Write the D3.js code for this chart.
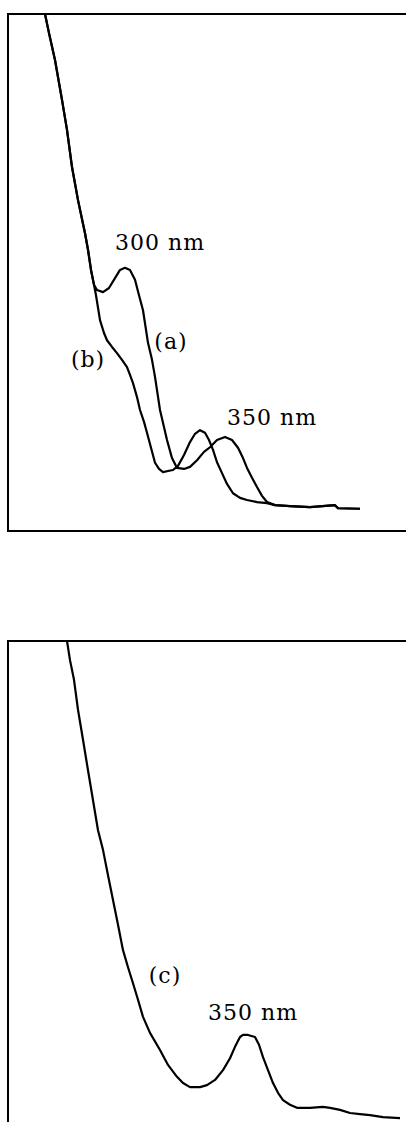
<!DOCTYPE html>
<html>
<head>
<meta charset="utf-8">
<script src="https://cdn.jsdelivr.net/npm/d3@7"></script>
<style>
  html, body { margin: 0; padding: 0; background: #fff; }
  svg { display: block; }
</style>
</head>
<body>
<svg id="chart" width="406" height="1122"></svg>
<script>
// ---- data (wavelength nm, absorbance relative units) ----
const wavelengthA = [258.5,260.5,263.5,267,269.5,272,275,278.5,280,281.5,283,284.5,287.5,290.5,293.5,296,298.5,301,303.5,305.5,307.5,310,312,313.5,316,319.5,322,324.5,328,331,334.5,338,341,344.5,348.5,352,355,357.5,359.5,362,364.5,367,369.5,373.5,381,391,403.5,405,416];
const absorbanceA = [1.000,0.963,0.911,0.834,0.776,0.704,0.640,0.576,0.544,0.505,0.476,0.466,0.462,0.470,0.489,0.505,0.509,0.505,0.486,0.456,0.427,0.364,0.331,0.298,0.234,0.176,0.141,0.122,0.120,0.124,0.137,0.153,0.162,0.176,0.182,0.176,0.161,0.141,0.122,0.103,0.085,0.068,0.056,0.050,0.048,0.046,0.050,0.044,0.043];

const wavelengthB = [258.5,260.5,263.5,267,269.5,272,275,278.5,280,281.5,283,284,286,288,289.5,292,294.5,297,299.5,301,302.5,304.5,306,308,309.5,311.5,313.5,315.5,317.5,320,322.5,325,328,331,333.5,336,338.5,340.5,342.5,344.5,347,349.5,352.5,356,359.5,364.5,369.5,373.5,381,391,403.5,405,416];
const absorbanceB = [1.000,0.963,0.911,0.834,0.776,0.704,0.640,0.576,0.544,0.505,0.476,0.456,0.408,0.383,0.369,0.356,0.344,0.331,0.317,0.302,0.286,0.259,0.234,0.211,0.190,0.161,0.132,0.120,0.114,0.116,0.118,0.126,0.147,0.172,0.188,0.195,0.190,0.176,0.157,0.133,0.112,0.091,0.073,0.064,0.060,0.056,0.054,0.050,0.048,0.046,0.050,0.044,0.043];

const wavelengthC = [269.5,271,273,275,277.5,280,282.5,285,287.5,290,292.5,295,297.5,300,302.5,305,307.5,311,316,320,324.5,327.5,331,336,339.5,343.5,347.5,351,353.5,356,357.5,360,363.5,365.5,367.5,370,372.5,375,377.5,381,384.5,391,397.5,401,406,411,416,421,427.5,436];
const absorbanceC = [1.000,0.963,0.925,0.867,0.809,0.750,0.692,0.634,0.596,0.547,0.499,0.451,0.402,0.369,0.338,0.306,0.273,0.242,0.209,0.180,0.157,0.145,0.137,0.137,0.141,0.151,0.170,0.193,0.215,0.234,0.238,0.238,0.234,0.219,0.195,0.170,0.145,0.126,0.112,0.103,0.097,0.097,0.099,0.097,0.093,0.087,0.085,0.083,0.079,0.077];

// annotation labels: [text, wavelength, absorbance]
const labelsTop = [["300 nm",316,0.544],["(a)",321.5,0.352],["(b)",280,0.317],["350 nm",372,0.205]];
const labelsBottom = [["(c)",318.5,0.338],["350 nm",362.5,0.267]];

// ---- layout ----
const svg = d3.select("#chart");
const x = d3.scaleLinear().domain([240, 440]).range([8, 408]);
const panels = [
  { top: 14, series: [[wavelengthA, absorbanceA],[wavelengthB, absorbanceB]], labels: labelsTop },
  { top: 641, series: [[wavelengthC, absorbanceC]], labels: labelsBottom }
];

panels.forEach(p => {
  const y = d3.scaleLinear().domain([0, 1]).range([p.top + 517, p.top]);
  const g = svg.append("g");
  g.append("rect")
    .attr("x", x(240)).attr("y", y(1))
    .attr("width", x(440) - x(240) + 10)
    .attr("height", y(0) - y(1))
    .attr("fill", "none").attr("stroke", "#000").attr("stroke-width", 2);
  const line = d3.line().x(d => x(d[0])).y(d => y(d[1])).curve(d3.curveLinear);
  p.series.forEach(([wl, ab]) => {
    g.append("path")
      .datum(wl.map((w, i) => [w, ab[i]]))
      .attr("d", line)
      .attr("fill", "none").attr("stroke", "#000")
      .attr("stroke-width", 2.2).attr("stroke-linejoin", "round");
  });
  g.selectAll("text.lbl").data(p.labels).join("text")
    .attr("class", "lbl")
    .attr("x", d => x(d[1])).attr("y", d => y(d[2]))
    .attr("text-anchor", "middle")
    .attr("font-family", "DejaVu Serif")
    .attr("font-size", 22)
    .attr("letter-spacing", 1)
    .attr("fill", "#000")
    .text(d => d[0]);
});
</script>
</body>
</html>
